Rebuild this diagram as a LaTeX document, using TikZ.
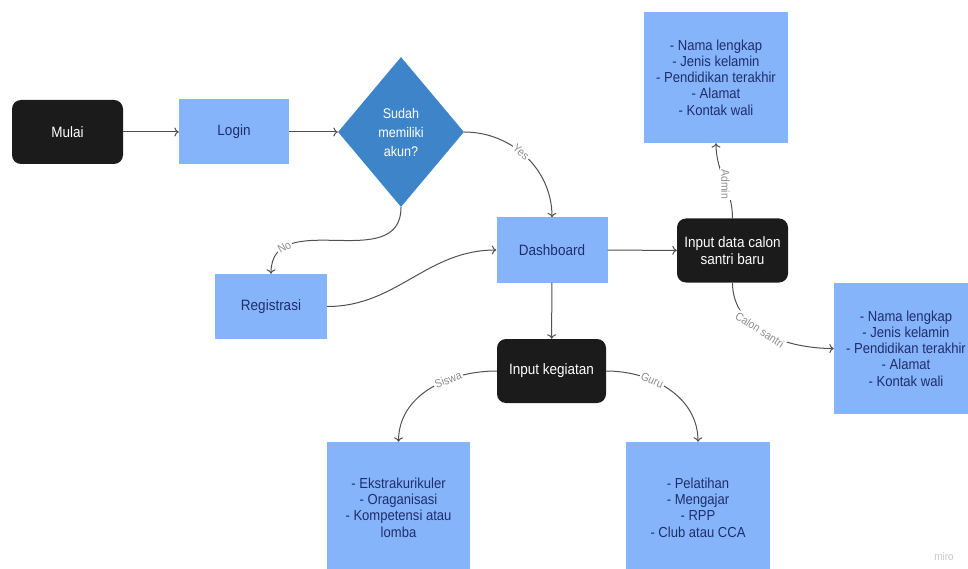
\documentclass[tikz,border=0pt]{standalone}
\usepackage{fontspec}
\setmainfont{Liberation Sans}[FakeStretch=0.9]
\usetikzlibrary{arrows,arrows.meta,shapes.geometric}
\definecolor{boxblue}{HTML}{86B4FA}
\definecolor{navy}{HTML}{1E2D6B}
\definecolor{darkbox}{HTML}{1B1B1B}
\definecolor{decblue}{HTML}{3D84C8}
\definecolor{linegray}{HTML}{505050}
\definecolor{labelgray}{HTML}{8C8C8C}
\tikzset{startbox/.style={rectangle,rounded corners=9pt,fill=darkbox,text=white,align=center,minimum width=111pt,minimum height=64pt,font=\fontsize{15}{17}\selectfont}}
\tikzset{bluebox/.style={rectangle,fill=boxblue,text=navy,align=center,minimum width=111pt,minimum height=65pt,font=\fontsize{15}{17}\selectfont}}
\tikzset{listbox/.style={rectangle,fill=boxblue,text=navy,align=center,minimum width=144pt,minimum height=131pt,font=\fontsize{14.5}{16.3}\selectfont}}
\tikzset{decision/.style={diamond,fill=decblue,text=white,align=center,inner sep=0pt,minimum width=126pt,minimum height=150pt,font=\fontsize{14}{19}\selectfont}}
\tikzset{flow/.style={-{To[length=4.5pt,width=9pt]},color=linegray,line width=1pt}}
\tikzset{tag/.style={fill=white,text=labelgray,inner sep=1.5pt,font=\fontsize{11.5}{12}\selectfont}}

\begin{document}
\begin{tikzpicture}[x=1pt,y=-1pt]
\useasboundingbox (0,0) rectangle (968,569);
\clip (0,0) rectangle (968,569);
% \draw[help lines,step=50] (0,0) grid (968,569);
\node (mulai) [startbox] at (67.5,132) {Mulai};
\node (login) [bluebox,minimum width=110pt] at (234,132) {Login};
\node (akun) [decision] at (401,132) {Sudah\\memiliki\\akun?};
\node (dashboard) [bluebox] at (552,250) {Dashboard};
\node (registrasi) [bluebox,minimum width=112pt] at (271,306.5) {Registrasi};
\node (calon) [startbox] at (732.5,250.5) {Input data calon\\santri baru};
\node (dataadmin) [listbox] at (716,77.5) {- Nama lengkap\\- Jenis kelamin\\- Pendidikan terakhir\\- Alamat\\- Kontak wali};
\node (datasantri) [listbox] at (906,348.5) {- Nama lengkap\\- Jenis kelamin\\- Pendidikan terakhir\\- Alamat\\- Kontak wali};
\node (kegiatan) [startbox,minimum width=109pt] at (551.5,371) {Input kegiatan};
\node (siswa) [listbox,minimum width=143pt] at (398.5,507.5) {- Ekstrakurikuler\\- Oraganisasi\\- Kompetensi atau\\lomba};
\node (guru) [listbox] at (698,507.5) {- Pelatihan\\- Mengajar\\- RPP\\- Club atau CCA};
\node (miro) [text=gray!45,font=\fontsize{11}{12}\selectfont] at (944,557) {miro};
%
\path[flow] (mulai) edge (login);
\path[flow] (login) edge (akun);
\path[flow] (akun.east) edge[out=0,in=90] node[tag,sloped,pos=0.45] {Yes} (dashboard.north);
\path[flow] (akun.south) edge[out=-90,in=90,looseness=1.2] node[tag,sloped,pos=0.8] {No} (registrasi.north);
\path[flow] (registrasi.east) edge[out=0,in=180] (dashboard.west);
\path[flow] (dashboard) edge (calon);
\path[flow] (calon.north) edge[out=90,in=-90] node[tag,rotate=-90,pos=0.45] {Admin} (dataadmin.south);
\path[flow] (calon.south) edge[out=-90,in=180] node[tag,sloped,pos=0.45] {Calon santri} (datasantri.west);
\path[flow] (dashboard) edge (kegiatan);
\path[flow] (kegiatan.west) edge[out=180,in=90] node[tag,sloped,pos=0.35] {Siswa} (siswa.north);
\path[flow] (kegiatan.east) edge[out=0,in=90] node[tag,sloped,pos=0.35] {Guru} (guru.north);
\end{tikzpicture}
\end{document}
